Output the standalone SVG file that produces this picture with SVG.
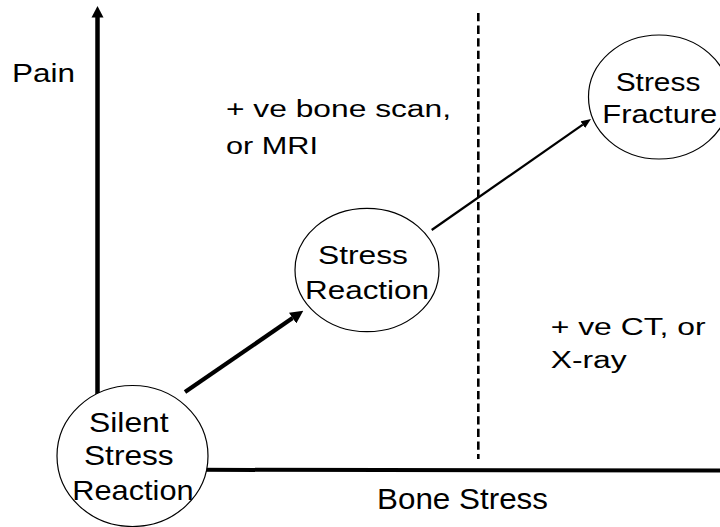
<svg xmlns="http://www.w3.org/2000/svg" width="720" height="527" viewBox="0 0 720 527">
<style>
text{font-family:"Liberation Sans",Arial,sans-serif;fill:#000}
.node{fill:#fff;stroke:#000;stroke-width:1.2}
.ax{stroke:#000;fill:none}
</style>
<defs>
<marker id="ahBig" markerUnits="userSpaceOnUse" markerWidth="13" markerHeight="13" refX="0" refY="6.5" orient="auto">
<path d="M0,0 L13,6.5 L0,13 z" fill="#000"/>
</marker>
<marker id="ahSmall" markerUnits="userSpaceOnUse" markerWidth="10" markerHeight="8" refX="0" refY="4" orient="auto">
<path d="M0,0 L10,4 L0,8 z" fill="#000"/>
</marker>
</defs>
<rect width="720" height="527" fill="#fff"/>
<g id="connectors">
<line class="ax" x1="97.5" y1="17" x2="97.5" y2="410" stroke-width="4.5"/>
<polygon points="97.5,6 91.5,17.5 103.5,17.5" fill="#000"/>
<line class="ax" x1="200" y1="469.8" x2="720" y2="470.5" stroke-width="4"/>
<line class="ax" x1="478.3" y1="13" x2="478.3" y2="459" stroke-width="2.6" stroke-dasharray="8.3 4.3"/>
<line class="ax" x1="185" y1="392" x2="292.6" y2="318.1" stroke-width="4.2" marker-end="url(#ahBig)"/>
<line class="ax" x1="431.7" y1="230" x2="582.8" y2="124.7" stroke-width="2.2" marker-end="url(#ahSmall)"/>
</g>
<g id="axis-labels">
<text x="12" y="82" font-size="26" textLength="63" lengthAdjust="spacingAndGlyphs">Pain</text>
<text x="377" y="508.5" font-size="29" textLength="171" lengthAdjust="spacingAndGlyphs">Bone Stress</text>
</g>
<g id="region-labels">
<text x="226" y="117" font-size="23.5" textLength="225" lengthAdjust="spacingAndGlyphs">+ ve bone scan,</text>
<text x="226" y="154" font-size="23.5" textLength="92" lengthAdjust="spacingAndGlyphs">or MRI</text>
<text x="550.7" y="335" font-size="23.5" textLength="155" lengthAdjust="spacingAndGlyphs">+ ve CT, or</text>
<text x="550.7" y="368.3" font-size="23.5" textLength="76" lengthAdjust="spacingAndGlyphs">X-ray</text>
</g>
<g id="node-silent">
<ellipse class="node" cx="132.5" cy="456" rx="75.5" ry="70.5"/>
<text x="89" y="431.7" font-size="28" textLength="79.7" lengthAdjust="spacingAndGlyphs">Silent</text>
<text x="84" y="465" font-size="28" textLength="89.7" lengthAdjust="spacingAndGlyphs">Stress</text>
<text x="72.3" y="500" font-size="28" textLength="121.3" lengthAdjust="spacingAndGlyphs">Reaction</text>
</g>
<g id="node-reaction">
<ellipse class="node" cx="367" cy="270" rx="72" ry="61.7"/>
<text x="318" y="264" font-size="26.5" textLength="90" lengthAdjust="spacingAndGlyphs">Stress</text>
<text x="305" y="299.3" font-size="26.5" textLength="124" lengthAdjust="spacingAndGlyphs">Reaction</text>
</g>
<g id="node-fracture">
<ellipse class="node" cx="659" cy="97" rx="70.5" ry="62"/>
<text x="615.7" y="91" font-size="25.5" textLength="84.7" lengthAdjust="spacingAndGlyphs">Stress</text>
<text x="602.3" y="122.7" font-size="25.5" textLength="115" lengthAdjust="spacingAndGlyphs">Fracture</text>
</g>
</svg>
